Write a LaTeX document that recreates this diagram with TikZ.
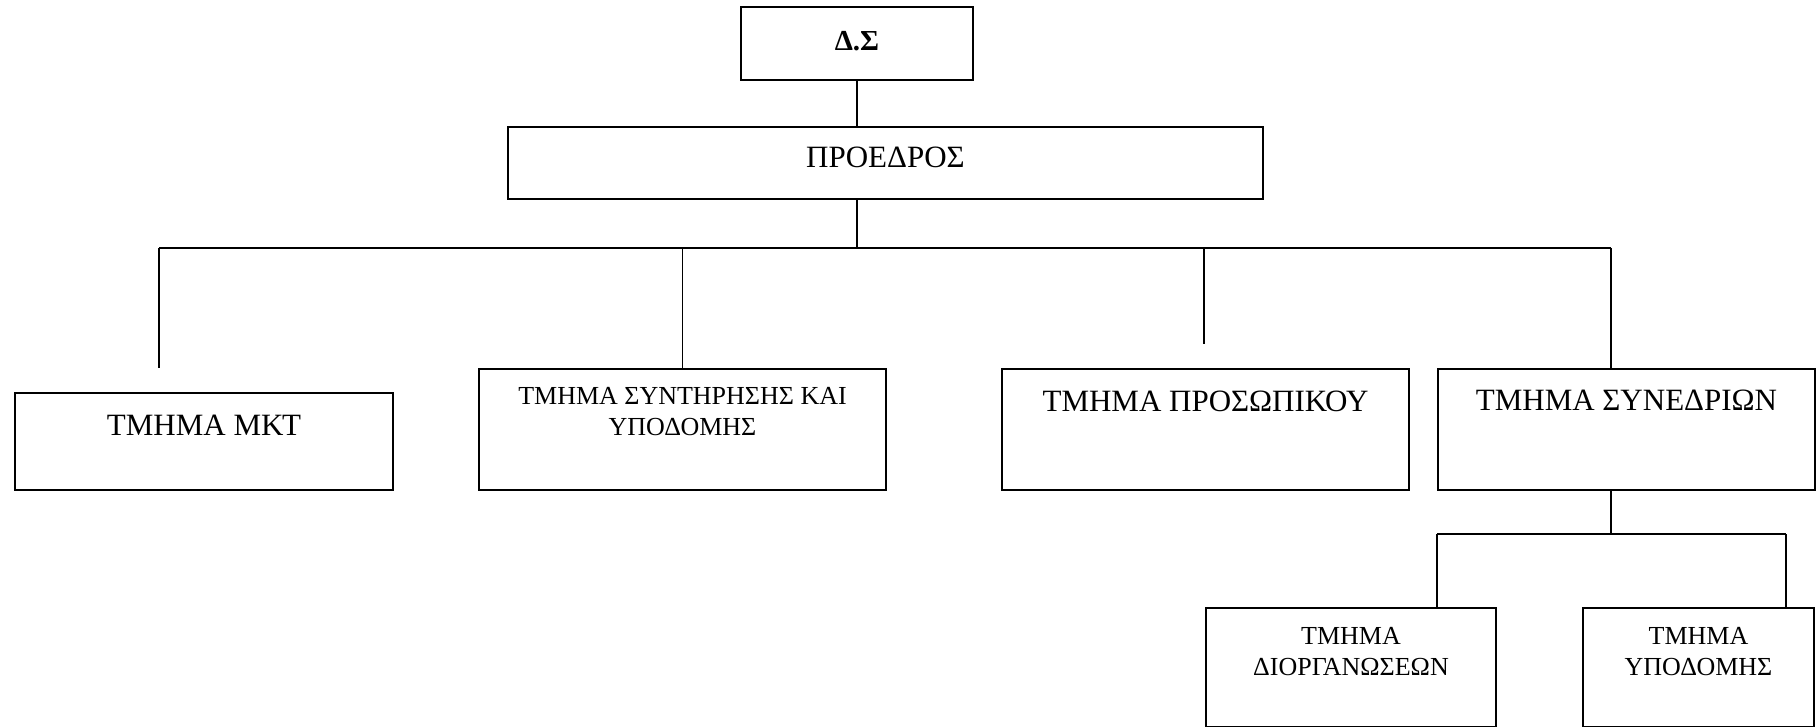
\documentclass[tikz,border=0pt]{standalone}
\usepackage{fontspec}
\setmainfont{Liberation Serif}
\newcommand{\twolines}[2]{\begin{tabular}[t]{@{}c@{}}#1\\#2\end{tabular}}

\begin{document}
\begin{tikzpicture}[x=1pt, y=-1pt,
        unit/.style={draw, line width=2pt, inner sep=0pt, anchor=north west},
        big/.style={font=\fontsize{31}{34}\selectfont},
        small/.style={font=\fontsize{26}{31}\selectfont},
        wire/.style={line width=1.4pt},
        bus/.style={line width=2.2pt}]
                \useasboundingbox (0,0) rectangle (1816,727);
                % top
                \node[unit, minimum width=232pt, text height=44pt, text depth=29pt,
                      font=\fontsize{29}{32}\selectfont\bfseries] (ds) at (740,6) {Δ.Σ};
                \node[unit, big, minimum width=755pt, text height=41pt, text depth=31pt] (pr) at (507,126) {ΠΡΟΕΔΡΟΣ};
                % departments
                \node[unit, big, minimum width=378pt, text height=42pt, text depth=55pt] (mkt) at (14,392) {ΤΜΗΜΑ ΜΚΤ};
                \node[unit, small, minimum width=407pt, text height=35pt, text depth=86pt] (snt) at (478,368)
                      {\twolines{ΤΜΗΜΑ ΣΥΝΤΗΡΗΣΗΣ ΚΑΙ}{ΥΠΟΔΟΜΗΣ}};
                \node[unit, big, minimum width=407pt, text height=42pt, text depth=79pt] (pros) at (1001,368) {ΤΜΗΜΑ ΠΡΟΣΩΠΙΚΟΥ};
                \node[unit, big, minimum width=377pt, text height=41pt, text depth=80pt] (synd) at (1437,368) {ΤΜΗΜΑ ΣΥΝΕΔΡΙΩΝ};
                % sub-departments
                \node[unit, small, minimum width=290pt, text height=36pt, text depth=83pt] (dio) at (1205,607)
                      {\twolines{ΤΜΗΜΑ}{ΔΙΟΡΓΑΝΩΣΕΩΝ}};
                \node[unit, small, minimum width=231pt, text height=36pt, text depth=83pt] (ypo) at (1582,607)
                      {\twolines{ΤΜΗΜΑ}{ΥΠΟΔΟΜΗΣ}};
                % lines
                \coordinate (bl) at (159,248);
                \coordinate (br) at (1611,248);
                \coordinate (mktend) at (159,368);
                \coordinate (prosend) at (1204,344);
                \coordinate (ll) at (1437,534);
                \coordinate (lr) at (1786,534);
                \draw[wire] (ds.south) -- (ds.south |- pr.north);
                \draw[wire] (ds.south |- pr.south) -- (ds.south |- bl);
                \draw[bus] (bl) -- (br);
                \draw[wire] (bl) -- (mktend);
                \draw[wire] (snt.north) -- (snt.north |- bl);
                \draw[wire] (prosend) -- (prosend |- bl);
                \draw[wire] (br) -- (br |- synd.north);
                \draw[wire] (br |- synd.south) -- (br |- ll);
                \draw[wire] (ll) -- (lr);
                \draw[wire] (ll) -- (ll |- dio.north);
                \draw[wire] (lr) -- (lr |- ypo.north);
            \end{tikzpicture}
\end{document}
